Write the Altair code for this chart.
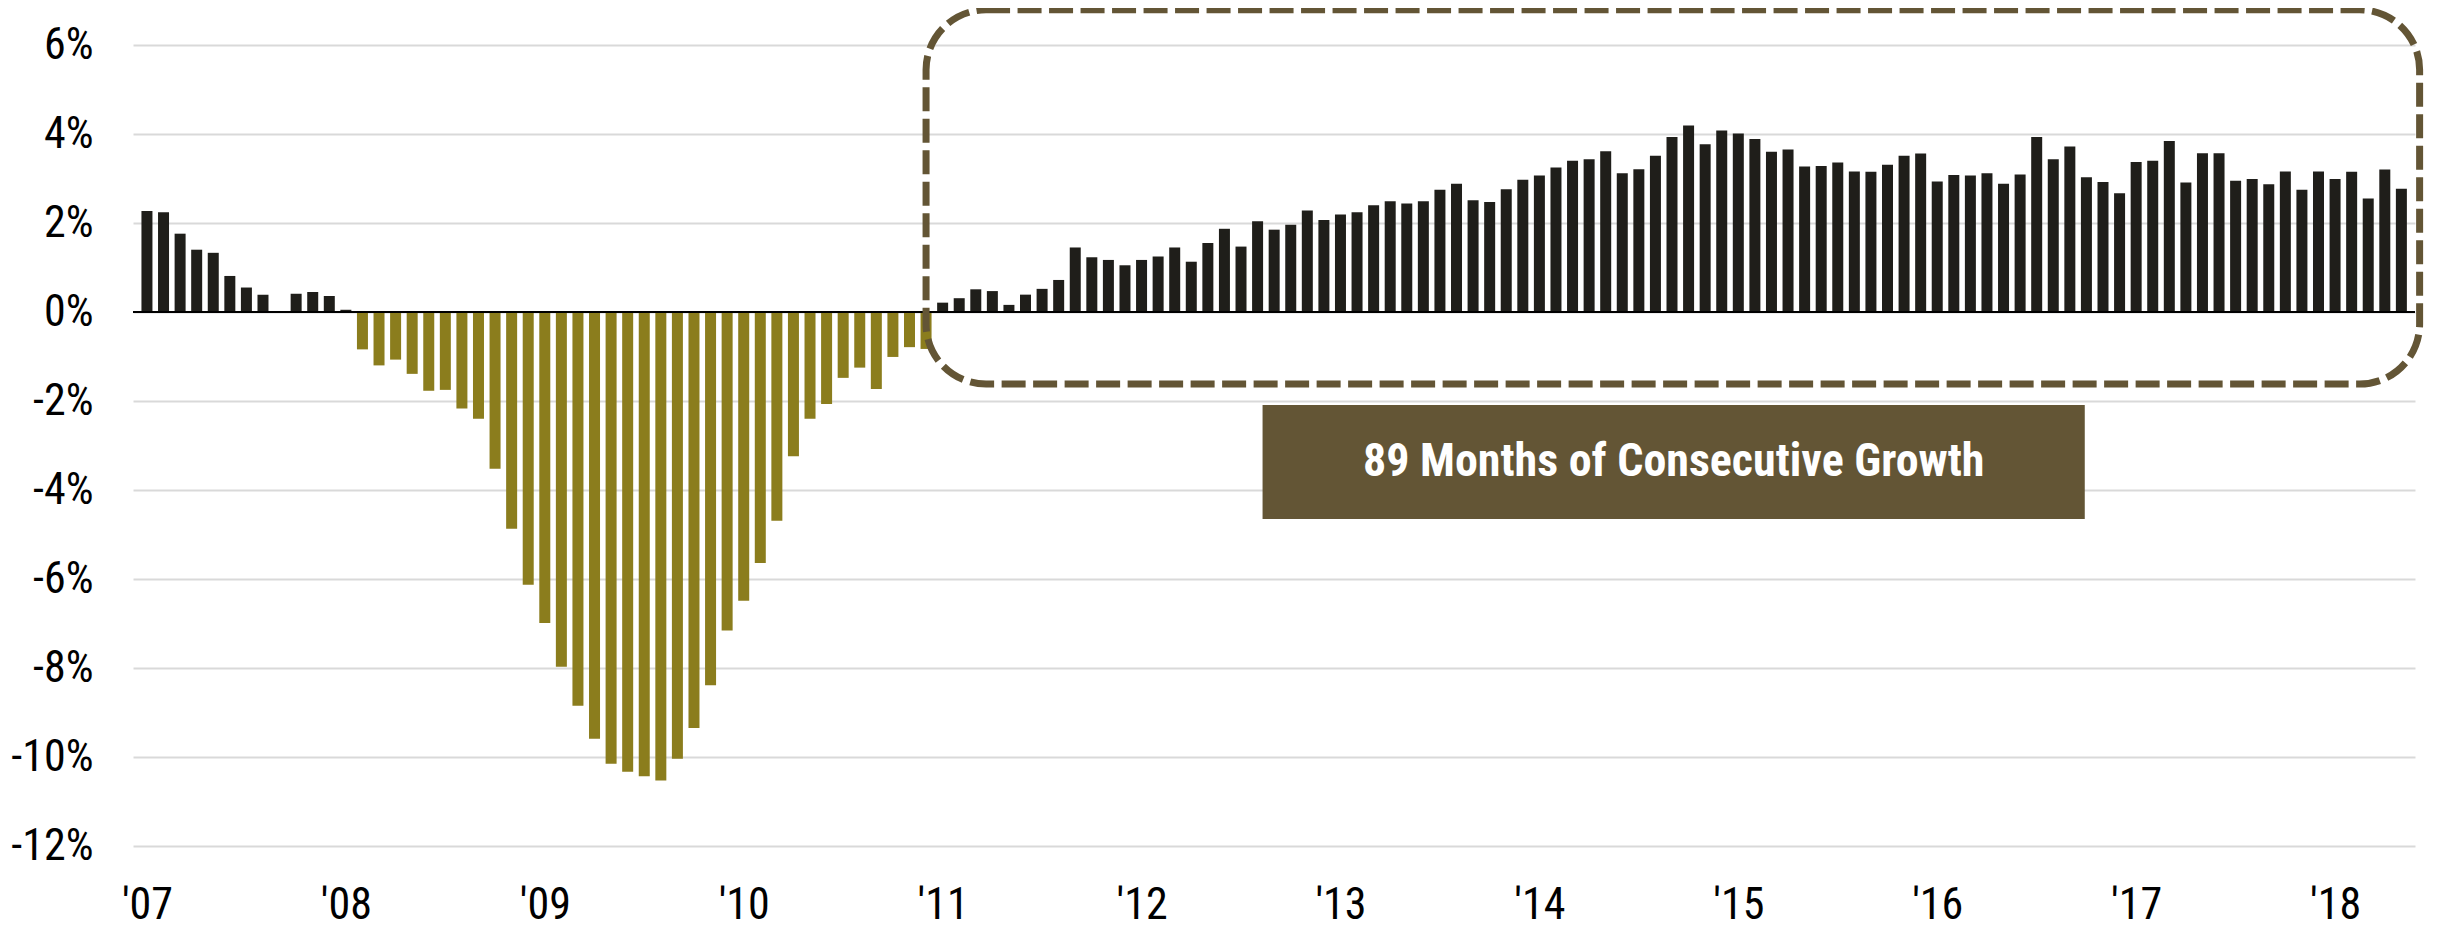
import altair as alt
import pandas as pd

# ---- data -------------------------------------------------------------
years = list(range(2007, 2019))
months = [f"{y}-{m:02d}" for y in years for m in range(1, 13)][:137]

values = [
    # 2007
    2.27, 2.24, 1.76, 1.40, 1.33, 0.81, 0.55, 0.39, 0.00, 0.41, 0.45, 0.36,
    # 2008
    0.05, -0.84, -1.20, -1.07, -1.39, -1.77, -1.75, -2.17, -2.40, -3.52, -4.87, -6.13,
    # 2009
    -6.99, -7.97, -8.85, -9.59, -10.15, -10.33, -10.43, -10.53, -10.04, -9.35, -8.39, -7.16,
    # 2010
    -6.49, -5.64, -4.69, -3.24, -2.40, -2.07, -1.48, -1.25, -1.73, -1.01, -0.79, -0.83,
    # 2011
    0.21, 0.31, 0.51, 0.47, 0.16, 0.39, 0.52, 0.72, 1.45, 1.23, 1.17, 1.05,
    # 2012
    1.17, 1.25, 1.45, 1.13, 1.55, 1.87, 1.47, 2.04, 1.85, 1.96, 2.28, 2.07,
    # 2013
    2.19, 2.24, 2.40, 2.49, 2.44, 2.49, 2.75, 2.88, 2.51, 2.47, 2.76, 2.97,
    # 2014
    3.07, 3.25, 3.40, 3.43, 3.61, 3.12, 3.21, 3.51, 3.93, 4.19, 3.77, 4.08,
    # 2015
    4.01, 3.89, 3.60, 3.65, 3.27, 3.28, 3.36, 3.16, 3.15, 3.31, 3.51, 3.56,
    # 2016
    2.93, 3.08, 3.07, 3.12, 2.88, 3.09, 3.93, 3.43, 3.72, 3.03, 2.92, 2.67,
    # 2017
    3.37, 3.40, 3.84, 2.91, 3.57, 3.57, 2.95, 2.99, 2.87, 3.16, 2.75, 3.16,
    # 2018
    2.99, 3.15, 2.55, 3.20, 2.77,
]

y_ticks = [-12, -10, -8, -6, -4, -2, 0, 2, 4, 6]
year_tick_index = [i * 12 for i in range(12)]

annotation_text = "89 Months of Consecutive Growth"
# annotation placement in data units (month index, percent)
highlight = {"x": 47.0, "x2": 137.1, "y": 6.79, "y2": -1.62}
label_box = {"x": 67.3, "x2": 116.9, "y": -2.09, "y2": -4.65}
label_pos = {"x": 92.1, "y": -3.37}

# ---- styling ----------------------------------------------------------
FONT = "Liberation Sans Narrow, Arial Narrow, Roboto Condensed, Liberation Sans, sans-serif"
BLACK_BAR = "#1f1e1a"
GOLD_BAR = "#8b7d1d"
BROWN = "#635535"

df = pd.DataFrame({"month": months, "idx": list(range(len(values))), "value": values})

x_scale = alt.Scale(domain=[-0.54, 136.52], nice=False, zero=False)
y_scale = alt.Scale(domain=[-12, 6], nice=False)

bars = alt.Chart(df).mark_bar(size=11).encode(
    x=alt.X(
        "idx:Q",
        scale=x_scale,
        axis=alt.Axis(
            values=year_tick_index,
            labelExpr="\"'\" + substring(toString(107 + datum.value / 12), 1, 3)",
            grid=False,
            ticks=False,
            domain=False,
            labelFont=FONT,
            labelFontSize=44,
            labelColor="black",
            labelPadding=37,
            title=None,
        ),
    ),
    y=alt.Y(
        "value:Q",
        scale=y_scale,
        axis=alt.Axis(
            values=y_ticks,
            labelExpr="datum.value + '%'",
            grid=True,
            gridColor="#d9d9d9",
            gridWidth=2,
            ticks=False,
            domain=False,
            labelFont=FONT,
            labelFontSize=44,
            labelColor="black",
            labelPadding=40,
            title=None,
        ),
    ),
    color=alt.condition(alt.datum.value < 0, alt.value(GOLD_BAR), alt.value(BLACK_BAR)),
)

zero_line = alt.Chart(pd.DataFrame({"y": [0]})).mark_rule(
    color="black", strokeWidth=2
).encode(y=alt.Y("y:Q", scale=y_scale))

hl_df = pd.DataFrame([highlight])
dashed = alt.Chart(hl_df).mark_rect(
    fill="transparent",
    stroke=BROWN,
    strokeWidth=7,
    strokeDash=[24, 7.5],
    cornerRadius=60,
).encode(
    x=alt.X("x:Q", scale=x_scale),
    x2="x2:Q",
    y=alt.Y("y:Q", scale=y_scale),
    y2="y2:Q",
)

box_df = pd.DataFrame([label_box])
box = alt.Chart(box_df).mark_rect(color=BROWN).encode(
    x=alt.X("x:Q", scale=x_scale),
    x2="x2:Q",
    y=alt.Y("y:Q", scale=y_scale),
    y2="y2:Q",
)

txt_df = pd.DataFrame([{**label_pos, "text": annotation_text}])
txt = alt.Chart(txt_df).mark_text(
    font=FONT,
    fontSize=46,
    fontWeight="bold",
    color="white",
    align="center",
    baseline="middle",
).encode(
    x=alt.X("x:Q", scale=x_scale),
    y=alt.Y("y:Q", scale=y_scale),
    text="text:N",
)

chart = (
    alt.layer(bars, zero_line, dashed, box, txt)
    .properties(
        width=2282,
        height=801,
        autosize=alt.AutoSizeParams(type="none"),
        padding={"left": 125, "top": 37, "right": 15, "bottom": 84},
        background="white",
    )
    .configure_view(stroke=None)
)

chart.save("out.html", embed_options={"renderer": "svg", "actions": False})
